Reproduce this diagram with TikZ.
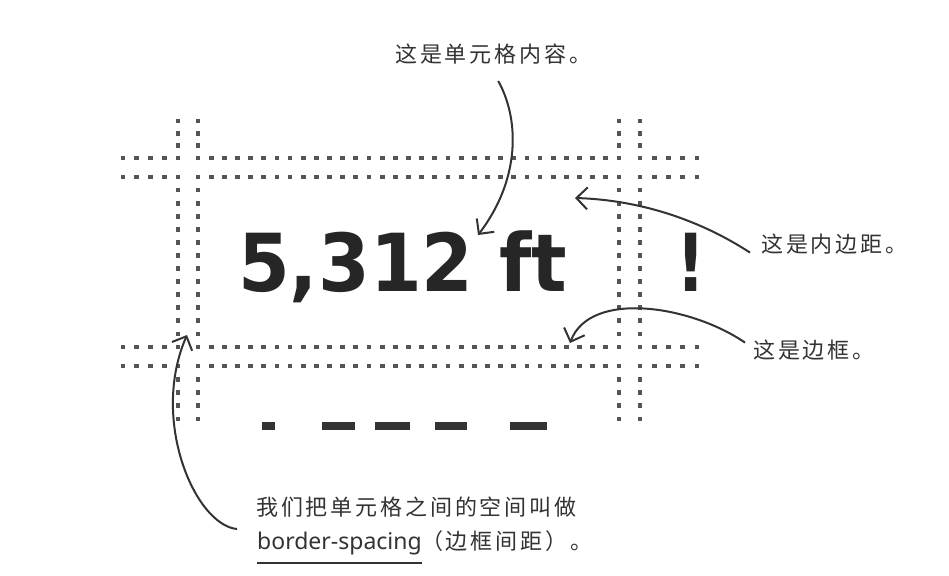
\documentclass[tikz,border=0pt]{standalone}
\usepackage{fontspec}
\usetikzlibrary{arrows.meta}
\newfontfamily\cjk[LetterSpace=13]{Noto Sans CJK SC}
\newfontfamily\hand{Noto Sans}
\newfontfamily\bigsans{DejaVu Sans}
\definecolor{ink}{HTML}{333333}
\definecolor{gridgray}{HTML}{555555}
\tikzset{
  note/.style={font=\cjk\fontsize{22}{26}\selectfont, text=ink, inner sep=0pt, anchor=base west},
  pointer/.style={draw=ink, line width=2pt, -{Straight Barb[length=11pt,width=22pt]}},
}
\begin{document}
\begin{tikzpicture}[x=1pt,y=-1pt]
  \useasboundingbox[fill=white] (0,0) rectangle (949,575);
  % dotted cell borders
  \foreach \y in {158,177,347,366}
    \foreach \a/\b/\n in {123/178/4,198/619/32,640/697/4}
      \foreach \k in {0,...,\n}
        \fill[gridgray] ({\a+(\b-\a)*\k/\n-2.4},\y-2.4) rectangle +(4.8,4.8);
  \foreach \x in {178,198,619,640}
    \foreach \a/\b/\n in {121/158/3,177/347/13,366/419/4}
      \foreach \k in {0,...,\n}
        \fill[gridgray] (\x-2.4,{\a+(\b-\a)*\k/\n-2.4}) rectangle +(4.8,4.8);

  \node[anchor=base west, inner sep=0pt, text=black!85, xscale=0.93,
        font=\bigsans\bfseries\fontsize{80}{90}\selectfont] (value) at (238,291) {5,312 ft};
  \node[anchor=base, inner sep=0pt, text=black!85, xscale=0.8,
        font=\bigsans\bfseries\fontsize{80}{90}\selectfont] (bang) at (691,291) {!};
  \foreach \a/\b in {262/275,322/355,375/410,435/467,510/547}
    \fill[black!80] (\a,422) rectangle (\b,430);

  \node[note] (content) at (395,63) {这是单元格内容。};
  \node[note] (padding) at (761,252) {这是内边距。};
  \node[note] (border) at (753,358) {这是边框。};
  \node[note] (spacing) at (256,515) {我们把单元格之间的空间叫做};
  \node[anchor=base west, inner sep=0pt, text=ink,
        font=\hand\fontsize{23}{26}\selectfont] (term) at (257,549) {border-spacing};
  \node[note] (gloss) at ([xshift=-1pt]term.base east) {（边框间距）。};
  \draw[ink, line width=2.5pt] ([yshift=-14pt]term.base west) -- ([yshift=-14pt]term.base east);

  \coordinate (contenttip) at (478,235);
  \coordinate (paddingtip) at (575,198);
  \coordinate (bordertip) at (570,343);
  \coordinate (spacingtip) at (187,335);
  \draw[pointer] ([xshift=5pt,yshift=-16pt]content.south) .. controls (520,120) and (520,180) .. (contenttip);
  \draw[pointer] ([xshift=-11pt,yshift=-9pt]padding.west) .. controls (700,220) and (640,200) .. (paddingtip);
  \draw[pointer] ([xshift=-8pt,yshift=7pt]border.west) .. controls (690,305) and (590,290) .. (bordertip);
  \draw[pointer] ([xshift=-19pt,yshift=-12pt]spacing.south west) .. controls (195,525) and (150,420) .. (spacingtip);
\end{tikzpicture}
\end{document}
